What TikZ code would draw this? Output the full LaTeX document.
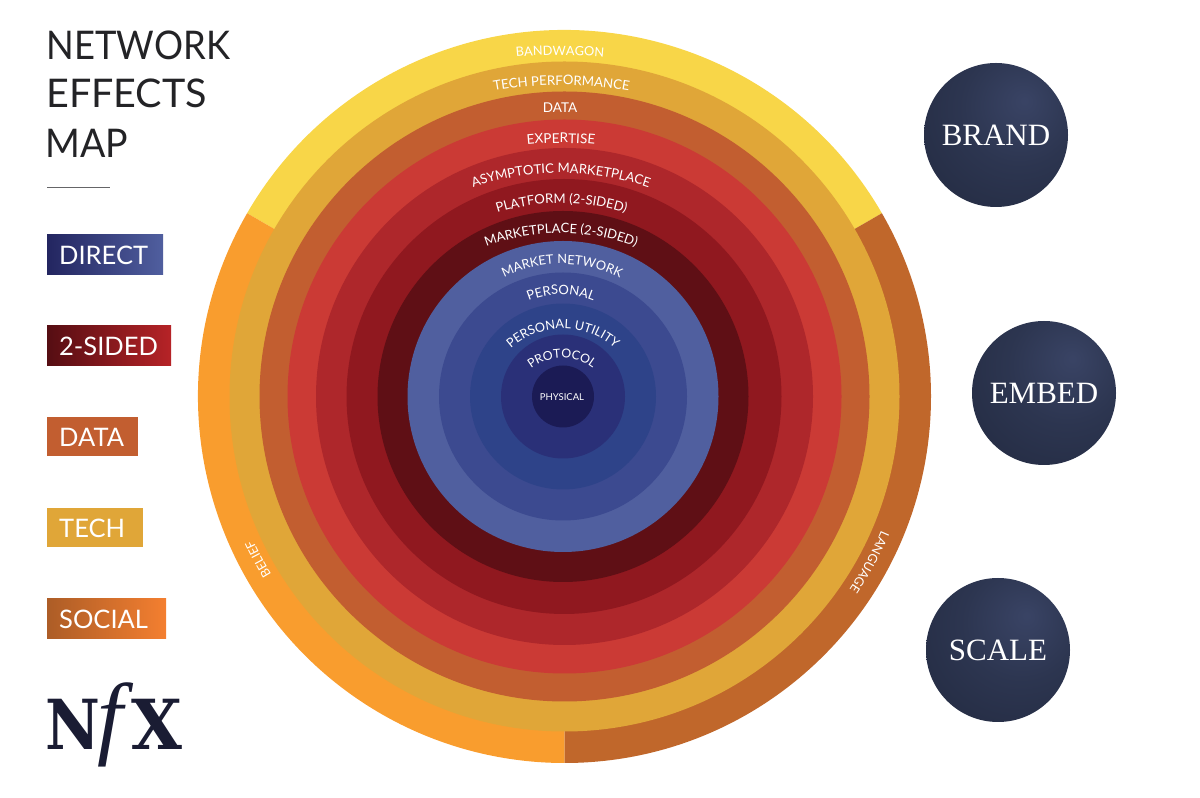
\documentclass[tikz,border=0pt]{standalone}
\usepackage{fontspec}
\setmainfont{Lato}
\newfontfamily\serifcap{Liberation Serif}
\newfontfamily\slab{DejaVu Serif}[BoldFont=* Bold]
\usetikzlibrary{decorations.text}
\definecolor{cbelief}{HTML}{F99D2E}
\definecolor{clang}{HTML}{C0672B}
\definecolor{cband}{HTML}{F8D648}
\definecolor{ctech}{HTML}{E0A638}
\definecolor{cdata}{HTML}{C25E30}
\definecolor{cexp}{HTML}{CB3A35}
\definecolor{casym}{HTML}{AE272B}
\definecolor{cplat}{HTML}{90181F}
\definecolor{cmark}{HTML}{5F0F15}
\definecolor{cmnet}{HTML}{505F9F}
\definecolor{cpers}{HTML}{3C4A90}
\definecolor{cutil}{HTML}{2E4389}
\definecolor{cprot}{HTML}{2A3078}
\definecolor{cphys}{HTML}{1B1B55}
\definecolor{cink}{HTML}{232326}
\definecolor{clogo}{HTML}{1A1C33}
\definecolor{csocial}{HTML}{F47F30}
\pgfdeclareradialshading{sphere}{\pgfpoint{10bp}{12bp}}{%
  rgb(0bp)=(0.225,0.265,0.395);rgb(20bp)=(0.175,0.210,0.315);rgb(42bp)=(0.140,0.170,0.260);rgb(62bp)=(0.105,0.130,0.210);rgb(100bp)=(0.095,0.115,0.190)}
\tikzset{
  x=1pt,y=1pt,
  legendbox/.style={anchor=north west,rectangle,minimum height=39.5,inner xsep=12,inner ysep=0,
    text=white,align=left,font=\fontsize{25.5}{26}\selectfont,text height=20,text depth=0},
  ballnode/.style={circle,minimum size=144,inner sep=0,shading=sphere,text=white,
    font=\serifcap\fontsize{31}{32}\selectfont},
  titleline/.style={anchor=base west,inner sep=0,text=cink,font=\fontsize{39.5}{40}\selectfont},
  arctext/.style={decorate},
}
% cx, baseline y (pixels from top), radius, half angle, font size, text
\newcommand\arclabel[6]{%
  \path[arctext,decoration={text along path,text align=center,
    text={|\fontsize{#5}{#5}\selectfont\color{white}|#6}}]
    ({#1+#3*cos(90+#4)},{798-#2-#3+#3*sin(90+#4)}) arc[start angle=90+#4,end angle=90-#4,radius=#3];}
\begin{document}
\begin{tikzpicture}
\useasboundingbox (0,0) rectangle (1200,798);
% outer ring sectors
\def\ocx{564.5}\def\ocy{401.5}
\fill[cband] (\ocx,\ocy) -- ++(30:366.5) arc[start angle=30,end angle=150,radius=366.5] -- cycle;
\fill[cbelief] (\ocx,\ocy) -- ++(150:366.5) arc[start angle=150,end angle=270,radius=366.5] -- cycle;
\fill[clang] (\ocx,\ocy) -- ++(270:366.5) arc[start angle=270,end angle=390,radius=366.5] -- cycle;
% rings
\fill[ctech] (\ocx,\ocy) circle[radius=335];
\fill[cdata] (\ocx,\ocy) circle[radius=305];
\fill[cexp]  (\ocx,\ocy) circle[radius=277];
\fill[casym] (\ocx,\ocy) circle[radius=248.5];
\fill[cplat] (564,\ocy) circle[radius=217.5];
\fill[cmark] (563,\ocy) circle[radius=185.5];
\fill[cmnet] (563,\ocy) circle[radius=155.5];
\fill[cpers] (563,\ocy) circle[radius=124];
\fill[cutil] (563,\ocy) circle[radius=93];
\fill[cprot] (563,\ocy) circle[radius=62];
\fill[cphys] (563,\ocy) circle[radius=31];
% curved labels
\arclabel{560}{55}{480}{9}{12.8}{BANDWAGON}
\arclabel{561.5}{85}{385}{16}{13.2}{TECH PERFORMANCE}
\node[inner sep=0,text=white,font=\fontsize{13.5}{14}\selectfont] (ldata) at (560,690) {DATA};
\arclabel{561}{143}{340}{10}{13.5}{EXPERTISE}
\arclabel{561}{173}{270}{28}{13.1}{ASYMPTOTIC MARKETPLACE}
\arclabel{561.5}{203}{211}{26}{13.1}{PLATFORM (2-SIDED)}
\arclabel{561}{233}{206}{30}{13}{MARKETPLACE (2-SIDED)}
\arclabel{562}{264}{130}{36}{12.8}{MARKET NETWORK}
\arclabel{561}{294.5}{84}{34}{13}{PERSONAL}
\arclabel{563}{328.5}{78}{56}{12.7}{PERSONAL UTILITY}
\arclabel{562}{358}{50}{62}{12.3}{PROTOCOL}
\node[inner sep=0,text=white,font=\fontsize{9.5}{10}\selectfont] (lphys) at (562,401) {PHYSICAL};
% side labels
\path[arctext,decoration={text along path,text align=center,
  text={|\fontsize{12.5}{13}\selectfont\color{white}|BELIEF}}]
  ({\ocx+343*cos(220)},{\ocy+343*sin(220)}) arc[start angle=220,end angle=196,radius=343];
\path[arctext,decoration={text along path,text align=center,
  text={|\fontsize{12.5}{13}\selectfont\color{white}|LANGUAGE}}]
  ({\ocx+344*cos(-17)},{\ocy+344*sin(-17)}) arc[start angle=-17,end angle=-40,radius=344];
% title
\node[titleline,xscale=0.92] (t1) at (46.5,738.5) {NETWORK};
\node[titleline] (t2) at (46,690) {EFFECTS};
\node[titleline,xscale=0.95] (t3) at (45,640) {MAP};
\coordinate (ruleA) at (47,611);
\coordinate (ruleB) at (110,611);
\draw[cink!70,line width=0.9] (ruleA) -- (ruleB);
% legend
\node[legendbox,minimum width=116,text width=92,left color=cphys!85!cmnet,right color=cmnet] (lg1) at (47,563.5) {DIRECT};
\node[legendbox,minimum width=124,text width=100,left color=cmark!90!black,right color=casym!90!red] (lg2) at (47,472.5) {2-SIDED};
\node[legendbox,minimum width=91,text width=67,fill=cdata] (lg3) at (47,381.5) {DATA};
\node[legendbox,minimum width=96,text width=72,fill=ctech] (lg4) at (47,290.5) {TECH};
\node[legendbox,minimum width=119,text width=95,left color=clang!90!black,right color=csocial] (lg5) at (47,199.5) {SOCIAL};
% logo
\node[inner sep=0,anchor=base west,text=clogo,font=\slab\bfseries\fontsize{69}{70}\selectfont,xscale=0.87] (lgN) at (45,48) {N};
\node[inner sep=0,anchor=base west,text=clogo,font=\serifcap\itshape\fontsize{92}{92}\selectfont] (lgF) at (97,50) {f};
\node[inner sep=0,anchor=base east,text=clogo,font=\slab\bfseries\fontsize{69}{70}\selectfont,xscale=0.95] (lgX) at (183,48) {X};
% spheres
\node[ballnode] (brand) at (996,663) {BRAND};
\node[ballnode] (embed) at (1044,405) {EMBED};
\node[ballnode] (scale) at (998,148) {SCALE};
\end{tikzpicture}
\end{document}
